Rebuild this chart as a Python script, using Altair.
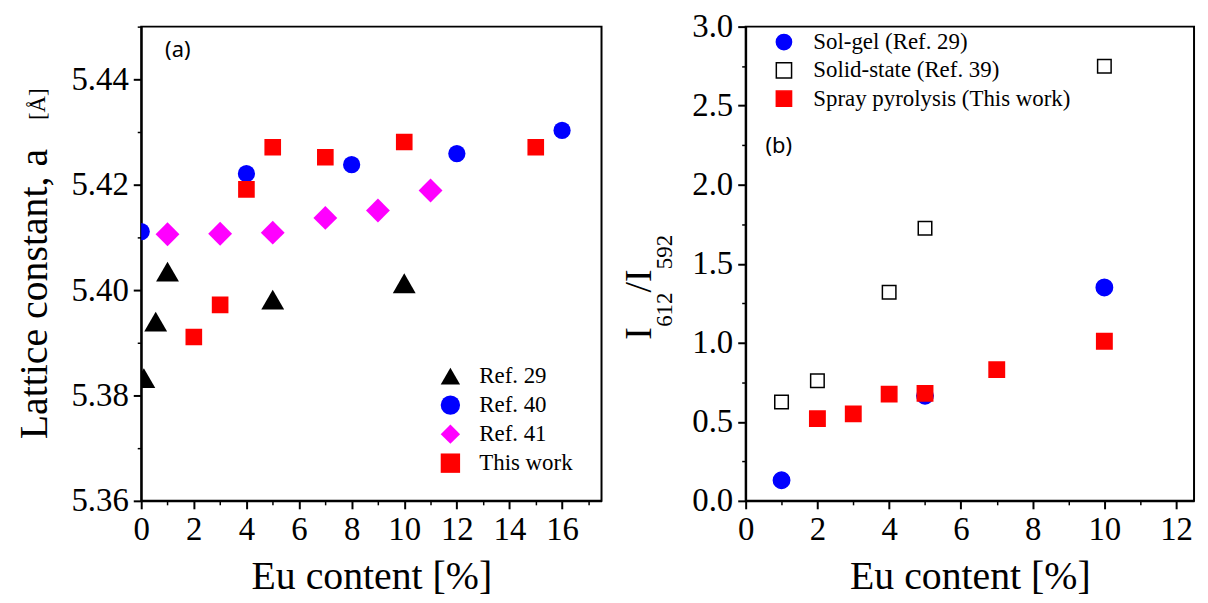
import altair as alt
import pandas as pd

# ---------------- data: panel (a) ----------------
left_series = ["Ref. 29", "Ref. 40", "Ref. 41", "This work"]
ref29_x = [0.1, 0.55, 1, 5, 10]
ref29_y = [5.3833, 5.3940, 5.4035, 5.3982, 5.4013]
ref40_x = [0, 4, 8, 12, 16]
ref40_y = [5.4111, 5.4221, 5.4238, 5.4259, 5.4303]
ref41_x = [1, 3, 5, 7, 9, 11]
ref41_y = [5.4106, 5.4107, 5.4109, 5.4137, 5.4151, 5.4189]
this_x = [2, 3, 4, 5, 7, 10, 15]
this_y = [5.3911, 5.3972, 5.4191, 5.4271, 5.4252, 5.4281, 5.4271]

# ---------------- data: panel (b) ----------------
right_series = ["Sol-gel (Ref. 29)", "Solid-state (Ref. 39)", "Spray pyrolysis (This work)"]
solgel_x = [1, 5, 10]
solgel_y = [0.13, 0.665, 1.35]
solid_x = [1, 2, 4, 5, 10]
solid_y = [0.625, 0.76, 1.32, 1.725, 2.75]
spray_x = [2, 3, 4, 5, 7, 10]
spray_y = [0.52, 0.55, 0.675, 0.68, 0.83, 1.01]

# tick values
left_x_major = [0, 2, 4, 6, 8, 10, 12, 14, 16]
left_x_minor = [1, 3, 5, 7, 9, 11, 13, 15, 17]
left_y_major = [5.36, 5.38, 5.40, 5.42, 5.44]
left_y_minor = [5.37, 5.39, 5.41, 5.43, 5.45]
right_x_major = [0, 2, 4, 6, 8, 10, 12]
right_x_minor = [1, 3, 5, 7, 9, 11]
right_y_major = [0.0, 0.5, 1.0, 1.5, 2.0, 2.5, 3.0]
right_y_minor = [0.25, 0.75, 1.25, 1.75, 2.25, 2.75]

SERIF = "Liberation Serif"
SANS = "Noto Sans"
H = 477

# marker styling (per series, same order as the series lists)
left_colors = ["#000000", "#0000ff", "#ff00ff", "#ff0000"]
left_shapes = ["triangle-up", "circle", "diamond", "square"]
left_sizes = [529, 300, 576, 280]
right_fills = ["#0000ff", "#ffffff", "#ff0000"]
right_strokes = ["#0000ff", "#000000", "#ff0000"]
right_shapes = ["circle", "square", "square"]
right_sizes = [272, 185, 240]


def frame(pairs):
    rows = []
    for name, xs, ys in pairs:
        for x, y in zip(xs, ys):
            rows.append({"x": x, "y": y, "series": name})
    return pd.DataFrame(rows)


def size_expr(names, sizes):
    expr = str(sizes[-1])
    for n, s in zip(reversed(names[:-1]), reversed(sizes[:-1])):
        expr = f"datum.series === '{n}' ? {s} : ({expr})"
    return expr


left_df = frame([
    ("Ref. 29", ref29_x, ref29_y),
    ("Ref. 40", ref40_x, ref40_y),
    ("Ref. 41", ref41_x, ref41_y),
    ("This work", this_x, this_y),
])
right_df = frame([
    ("Solid-state (Ref. 39)", solid_x, solid_y),
    ("Sol-gel (Ref. 29)", solgel_x, solgel_y),
    ("Spray pyrolysis (This work)", spray_x, spray_y),
])


def major_axis(values, fmt, orient, title=None):
    return alt.Axis(values=values, format=fmt, orient=orient, title=title, grid=False,
                    labelFont=SERIF, labelFontSize=33, labelColor="black",
                    labelPadding=5, labelFlush=False, labelOverlap=False,
                    domainColor="black", domainWidth=2,
                    tickColor="black", tickWidth=2, tickSize=8,
                    titleFont=SERIF, titleFontSize=40, titleFontWeight="normal",
                    titleColor="black", titlePadding=10)


def minor_axis(values, orient):
    return alt.Axis(values=values, orient=orient, title=None, grid=False, labels=False,
                    domain=False, tickColor="black", tickWidth=1.5, tickSize=4)


def text_layer(txt, x, y, size, font=SERIF, angle=None, align="left", baseline="alphabetic"):
    kw = dict(text=txt, font=font, fontSize=size, color="black", align=align, baseline=baseline)
    if angle is not None:
        kw["angle"] = angle
    return alt.Chart(pd.DataFrame({"k": [0]})).mark_text(**kw).encode(
        x=alt.value(x), y=alt.value(y))


# ---------------- panel (a) ----------------
xL = alt.Scale(domain=[0, 17.5], nice=False, zero=False)
yL = alt.Scale(domain=[5.36, 5.45], nice=False, zero=False)

legL = alt.Legend(title=None, orient="none", legendX=299.5, legendY=340, padding=0,
                  labelFont=SERIF, labelFontSize=23, labelColor="black", labelOffset=17.5,
                  rowPadding=5.2, labelLimit=400, symbolSize=380)

ptsL = alt.Chart(left_df).transform_calculate(
    msize=size_expr(left_series, left_sizes)
).mark_point(filled=True, opacity=1, clip=True).encode(
    x=alt.X("x:Q", scale=xL, axis=major_axis(left_x_major, "d", "bottom", "Eu content [%]")),
    y=alt.Y("y:Q", scale=yL, axis=major_axis(left_y_major, ".2f", "left")),
    color=alt.Color("series:N", scale=alt.Scale(domain=left_series, range=left_colors),
                    legend=legL),
    shape=alt.Shape("series:N", scale=alt.Scale(domain=left_series, range=left_shapes),
                    legend=legL),
    size=alt.Size("msize:Q", scale=None, legend=None),
)
minL = alt.Chart(left_df).mark_point(opacity=0).encode(
    x=alt.X("x:Q", scale=xL, axis=minor_axis(left_x_minor, "bottom")),
    y=alt.Y("y:Q", scale=yL, axis=minor_axis(left_y_minor, "left")),
)

left = alt.layer(
    minL, ptsL,
    text_layer("Lattice constant, a", -95, 415, 40, angle=270),
    text_layer("[Å]", -97, 94, 23, angle=270),
    text_layer("(a)", 24, 24, 22, font=SANS, baseline="middle"),
).resolve_axis(x="independent", y="independent").properties(width=463, height=H)

# ---------------- panel (b) ----------------
xR = alt.Scale(domain=[0, 12.5], nice=False, zero=False)
yR = alt.Scale(domain=[0, 3.0], nice=False, zero=False)

legR = alt.Legend(title=None, orient="none", legendX=27, legendY=4, padding=0,
                  labelFont=SERIF, labelFontSize=23, labelColor="black", labelOffset=18,
                  rowPadding=4.5, labelLimit=500, symbolStrokeWidth=1.5, symbolSize=235)

ptsR = alt.Chart(right_df).transform_calculate(
    msize=size_expr(right_series, right_sizes)
).mark_point(opacity=1, strokeWidth=1.5, clip=True).encode(
    x=alt.X("x:Q", scale=xR, axis=major_axis(right_x_major, "d", "bottom", "Eu content [%]")),
    y=alt.Y("y:Q", scale=yR, axis=major_axis(right_y_major, ".1f", "left")),
    fill=alt.Fill("series:N", scale=alt.Scale(domain=right_series, range=right_fills),
                  legend=legR),
    stroke=alt.Stroke("series:N", scale=alt.Scale(domain=right_series, range=right_strokes),
                      legend=legR),
    shape=alt.Shape("series:N", scale=alt.Scale(domain=right_series, range=right_shapes),
                    legend=legR),
    size=alt.Size("msize:Q", scale=None, legend=None),
)
minR = alt.Chart(right_df).mark_point(opacity=0).encode(
    x=alt.X("x:Q", scale=xR, axis=minor_axis(right_x_minor, "bottom")),
    y=alt.Y("y:Q", scale=yR, axis=minor_axis(right_y_minor, "left")),
)

right = alt.layer(
    minR, ptsR,
    text_layer("I", -95, 315, 38, angle=270),
    text_layer("612", -74, 302, 23, angle=270),
    text_layer("/I", -95, 267.5, 38, angle=270),
    text_layer("592", -74, 244, 23, angle=270),
    text_layer("(b)", 20, 120, 22, font=SANS, baseline="middle"),
).resolve_axis(x="independent", y="independent").properties(width=451, height=H)

chart = alt.hconcat(left, right, spacing=18).resolve_scale(
    color="independent", shape="independent",
    fill="independent", stroke="independent", x="independent", y="independent"
).resolve_legend(color="independent", shape="independent",
                 fill="independent", stroke="independent").properties(
    padding={"left": 5, "right": 5, "top": 0, "bottom": 0}
).configure(background="white", font=SERIF).configure_view(
    stroke="black", strokeWidth=2
).configure_axis(labelFont=SERIF, titleFont=SERIF).configure_legend(labelFont=SERIF)

chart.save("out.html", embed_options={"renderer": "svg", "actions": False})
